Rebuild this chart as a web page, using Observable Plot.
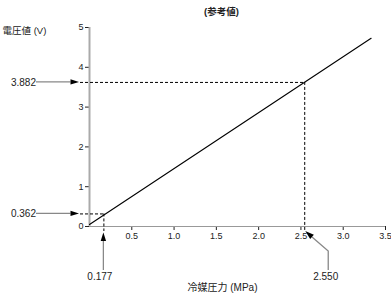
<!DOCTYPE html>
<html>
<head>
<meta charset="utf-8">
<script src="https://cdn.jsdelivr.net/npm/d3@7"></script>
<script src="https://cdn.jsdelivr.net/npm/@observablehq/plot@0.6"></script>
<style>
  html, body { margin: 0; padding: 0; background: #fff; }
</style>
</head>
<body>
<div id="chart"></div>
<script>
// ---- data ----
const pressure = [0, 3.33];          // MPa, ends of the characteristic line
const voltage = [0.05, 4.73];        // V
const markP = [0.17, 2.545];         // annotated pressures (as drawn)
const markPLabels = ["0.177", "2.550"];
const markV = [0.316, 3.62];         // annotated voltages (as drawn)
const markVLabels = ["0.362", "3.882"];
const xTicks = [0.5, 1.0, 1.5, 2.0, 2.5, 3.0, 3.5];
const yTicks = [0, 1, 2, 3, 4, 5];
const titleText = "(参考値)";
const yLabelText = "電圧値 (V)";
const xLabelText = "冷媒圧力 (MPa)";

const lineData = pressure.map((p, i) => ({p, v: voltage[i]}));
const marks2 = markP.map((p, i) => ({p, v: markV[i], pl: markPLabels[i], vl: markVLabels[i]}));

const FONT = "'Liberation Sans', 'Noto Sans CJK JP', Arial, sans-serif";

// callout arrows (gray shaft + black filled head), drawn through the plot's scales
function callouts(index, scales) {
  const g = d3.create("svg:g");
  const X = scales.x, Y = scales.y;
  function arrow(fx, fy, tx, ty, pts, len = 8.5, hw = 2.7) {
    const last = pts.length ? pts[pts.length - 1] : [fx, fy];
    const dx = tx - last[0], dy = ty - last[1];
    const L = Math.hypot(dx, dy), ux = dx / L, uy = dy / L;
    const bx = tx - ux * len, by = ty - uy * len;
    const all = [[fx, fy], ...pts, [bx, by]];
    g.append("path")
      .attr("d", d3.line()(all))
      .attr("fill", "none").attr("stroke", "#888").attr("stroke-width", 1.3);
    g.append("path")
      .attr("d", `M${tx},${ty}L${bx - uy * hw},${by + ux * hw}L${bx + uy * hw},${by - ux * hw}Z`)
      .attr("fill", "#000");
  }
  markV.forEach(v => {
    const px = X(0), py = Y(v);
    arrow(px - 53, py, px - 10, py, []);
  });
  {
    const px = X(markP[0]), py = Y(0);
    arrow(px, py + 44, px, py + 6.5, []);
  }
  {
    const px = X(markP[1]), py = Y(0);
    arrow(px + 24, py + 44, px + 1, py + 5, [[px + 24, py + 25]], 9, 2.8);
  }
  return g.node();
}

const chart = Plot.plot({
  width: 391,
  height: 298,
  marginLeft: 89,
  marginRight: 6,
  marginTop: 27,
  marginBottom: 72,
  style: {fontFamily: FONT, fontSize: "9px", color: "#222", background: "#fff", overflow: "visible"},
  x: {domain: [0, 3.5], ticks: xTicks, tickFormat: d3.format(".1f"), tickSize: 4, tickPadding: 2, label: null},
  y: {domain: [0, 5], ticks: yTicks, tickFormat: d3.format("d"), tickSize: 4, tickPadding: 2, label: null},
  marks: [
    Plot.ruleX([0], {y1: 0, y2: 5, stroke: "#aaa", strokeWidth: 2}),
    Plot.ruleY([0], {x1: 0, x2: 3.5, stroke: "#999", strokeWidth: 1}),
    Plot.ruleY(marks2, {y: "v", x1: 0, x2: "p", insetLeft: -9, stroke: "#000", strokeWidth: 1, strokeDasharray: "3,2"}),
    Plot.ruleX(marks2, {x: "p", y1: "v", y2: 0, insetBottom: -5, stroke: "#000", strokeWidth: 1, strokeDasharray: "3,2"}),
    Plot.line(lineData, {x: "p", y: "v", stroke: "#000", strokeWidth: 1.1}),
    callouts,
    Plot.text(marks2, {x: 0, y: "v", text: "vl", dx: -53.5, textAnchor: "end", fontSize: 10, fill: "#222"}),
    Plot.text(marks2.slice(0, 1), {x: "p", y: 0, text: "pl", dx: -4, dy: 50.5, fontSize: 10, fill: "#222"}),
    Plot.text(marks2.slice(1), {x: "p", y: 0, text: "pl", dx: 21, dy: 50.5, fontSize: 10, fill: "#222"}),
    Plot.text([titleText], {frameAnchor: "top", dx: -16, dy: -19, text: d => d, fontSize: 9.5, fontWeight: "bold", fill: "#222"}),
    Plot.text([yLabelText], {frameAnchor: "top-left", dx: -87, dy: 0, text: d => d, textAnchor: "start", fontSize: 9.5, fill: "#222"}),
    Plot.text([xLabelText], {frameAnchor: "bottom", dx: -15, dy: 64, text: d => d, fontSize: 10, fill: "#222"})
  ]
});
document.getElementById("chart").appendChild(chart);
</script>
</body>
</html>
